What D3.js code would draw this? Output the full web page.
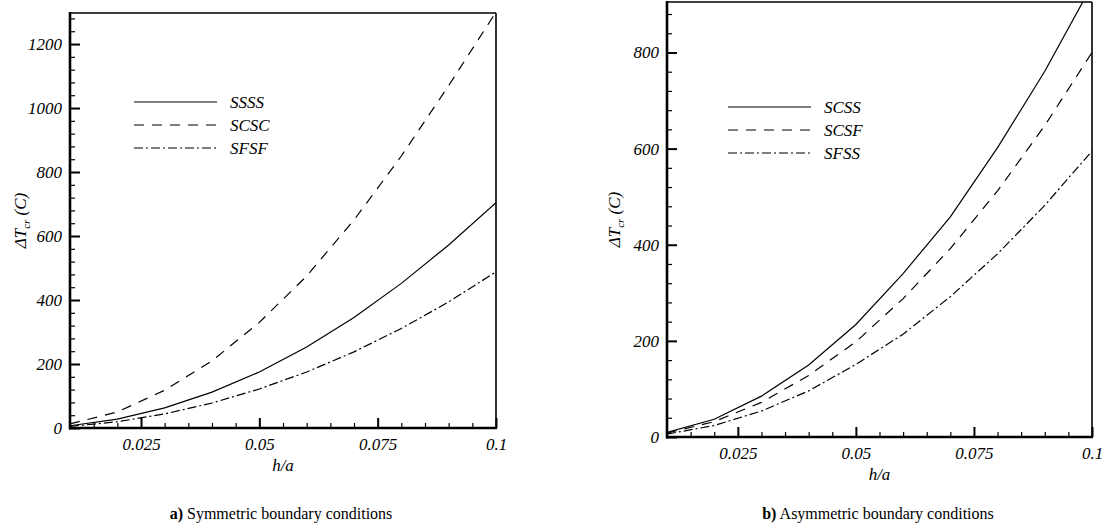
<!DOCTYPE html>
<html>
<head>
<meta charset="utf-8">
<script src="https://cdn.jsdelivr.net/npm/d3@7"></script>
<style>
  body { margin: 0; background: #fff; }
</style>
</head>
<body>
<div id="chart"></div>
<script>
// h/a values shared by both panels
let hRatio = [0.01, 0.02, 0.03, 0.04, 0.05, 0.06, 0.07, 0.08, 0.09, 0.1];

// a) symmetric boundary conditions
let ssss = [7, 28, 63, 112, 175, 253, 345, 452, 572, 704];
let scsc = [13, 50, 118, 210, 330, 475, 650, 850, 1070, 1300];
let sfsf = [5, 19.5, 44, 78, 122, 175, 238, 311, 394, 488];

// b) asymmetric boundary conditions
let scss = [9.4, 37, 85, 150, 234, 340, 458, 602, 761, 940];
let scsf = [8, 32, 72, 128, 198, 288, 392, 512, 648, 800];
let sfss = [6, 24, 54, 96, 151, 214, 292, 381, 482, 595];

let xTicks = [0.025, 0.05, 0.075, 0.1];
let xTickLabels = ["0.025", "0.05", "0.075", "0.1"];

let width = 1102, height = 530;
let serif = "'Liberation Serif', 'Times New Roman', serif";

let svg = d3.select("#chart")
    .append("svg")
    .attr("width", width)
    .attr("height", height);

// line styles
let styles = {
    solid: null,
    dash: "10,8",
    dashdot: "9,3,2,3"
};

let panels = [
    {
        id: "a",
        left: 70, right: 496, top: 13, bottom: 428,
        yMax: 1297, yMajor: [0, 200, 400, 600, 800, 1000, 1200],
        series: [
            {name: "SSSS", values: ssss, dash: styles.solid},
            {name: "SCSC", values: scsc, dash: styles.dash},
            {name: "SFSF", values: sfsf, dash: styles.dashdot}
        ],
        legendX: 134, legendY: 102,
        labelX: 20,
        caption: ["a)", " Symmetric boundary conditions"],
        captionX: 281
    },
    {
        id: "b",
        left: 667, right: 1092, top: 2, bottom: 437,
        yMax: 905, yMajor: [0, 200, 400, 600, 800],
        series: [
            {name: "SCSS", values: scss, dash: styles.solid},
            {name: "SCSF", values: scsf, dash: styles.dash},
            {name: "SFSS", values: sfss, dash: styles.dashdot}
        ],
        legendX: 728, legendY: 107,
        labelX: 614,
        caption: ["b)", " Asymmetric boundary conditions"],
        captionX: 878
    }
];

function italic(sel, size) {
    return sel.style("font-family", serif)
        .style("font-style", "italic")
        .style("font-size", size + "px")
        .attr("fill", "#000");
}

panels.forEach(function(p) {
    let x = d3.scaleLinear().domain([0.01, 0.1]).range([p.left, p.right]);
    let y = d3.scaleLinear().domain([0, p.yMax]).range([p.bottom, p.top]);

    let g = svg.append("g");

    // clip so curves stop at the frame
    svg.append("clipPath")
        .attr("id", "clip-" + p.id)
        .append("rect")
        .attr("x", p.left).attr("y", p.top)
        .attr("width", p.right - p.left).attr("height", p.bottom - p.top);

    // minor ticks
    let xMinor = d3.range(0.015, 0.1, 0.005).filter(function(v) {
        return Math.abs(v / 0.025 - Math.round(v / 0.025)) > 0.01;
    });
    let yMinor = d3.range(40, p.yMax, 40).filter(function(v) { return v % 200 !== 0; });

    g.append("g")
        .attr("transform", "translate(0," + p.bottom + ")")
        .call(d3.axisBottom(x).tickValues(xMinor).tickSize(-5).tickFormat(""))
        .call(function(s) { s.select(".domain").remove(); })
        .selectAll("line").attr("stroke-width", 1.2);

    g.append("g")
        .attr("transform", "translate(" + p.left + ",0)")
        .call(d3.axisLeft(y).tickValues(yMinor).tickSize(-5).tickFormat(""))
        .call(function(s) { s.select(".domain").remove(); })
        .selectAll("line").attr("stroke-width", 1.2);

    // major ticks with labels
    let xa = g.append("g")
        .attr("transform", "translate(0," + p.bottom + ")")
        .call(d3.axisBottom(x).tickValues(xTicks).tickSize(-10).tickPadding(10)
            .tickFormat(function(d, i) { return xTickLabels[i]; }));
    xa.select(".domain").remove();
    xa.attr("font-family", null).attr("font-size", null);
    xa.selectAll("line").attr("stroke-width", 2);
    italic(xa.selectAll("text"), 17);

    let ya = g.append("g")
        .attr("transform", "translate(" + p.left + ",0)")
        .call(d3.axisLeft(y).tickValues(p.yMajor).tickSize(-10).tickPadding(8)
            .tickFormat(d3.format("d")));
    ya.select(".domain").remove();
    ya.attr("font-family", null).attr("font-size", null);
    ya.selectAll("line").attr("stroke-width", 2);
    italic(ya.selectAll("text"), 17);

    // frame
    g.append("line").attr("x1", p.left).attr("x2", p.right).attr("y1", p.top).attr("y2", p.top)
        .attr("stroke", "#000").attr("stroke-width", 1.6);
    g.append("line").attr("x1", p.right).attr("x2", p.right).attr("y1", p.top).attr("y2", p.bottom)
        .attr("stroke", "#000").attr("stroke-width", 1.6);
    g.append("line").attr("x1", p.left).attr("x2", p.left).attr("y1", p.top - 1).attr("y2", p.bottom + 1.5)
        .attr("stroke", "#000").attr("stroke-width", 2.6);
    g.append("line").attr("x1", p.left - 1).attr("x2", p.right + 1).attr("y1", p.bottom).attr("y2", p.bottom)
        .attr("stroke", "#000").attr("stroke-width", 2.6);

    // curves
    let line = d3.line()
        .x(function(d, i) { return x(hRatio[i]); })
        .y(function(d) { return y(d); });

    g.append("g")
        .attr("clip-path", "url(#clip-" + p.id + ")")
        .selectAll("path")
        .data(p.series)
        .enter()
        .append("path")
        .attr("d", function(d) { return line(d.values); })
        .attr("fill", "none")
        .attr("stroke", "#000")
        .attr("stroke-width", 1.2)
        .attr("stroke-dasharray", function(d) { return d.dash; });

    // legend
    let lg = g.append("g").attr("transform", "translate(" + p.legendX + "," + p.legendY + ")");
    p.series.forEach(function(s, i) {
        lg.append("line")
            .attr("x1", 0).attr("x2", 83)
            .attr("y1", i * 23).attr("y2", i * 23)
            .attr("stroke", "#000").attr("stroke-width", 1.2)
            .attr("stroke-dasharray", s.dash);
        italic(lg.append("text"), 17)
            .attr("x", 96).attr("y", i * 23 + 6)
            .text(s.name);
    });

    // axis titles
    italic(g.append("text"), 17)
        .attr("x", (p.left + p.right) / 2)
        .attr("y", p.bottom + 43)
        .attr("text-anchor", "middle")
        .text("h/a");

    let yl = italic(g.append("text"), 17)
        .attr("transform", "translate(" + (p.labelX + 6) + "," + ((p.top + p.bottom) / 2) + ") rotate(-90)")
        .attr("text-anchor", "middle");
    yl.append("tspan").text("\u0394T");
    yl.append("tspan").attr("dy", 4).style("font-size", "11px").text("cr");
    yl.append("tspan").attr("dy", -4).text(" (C)");

    // caption
    let cap = svg.append("text")
        .attr("x", p.captionX)
        .attr("y", 519)
        .attr("text-anchor", "middle")
        .style("font-family", serif)
        .style("font-size", "16px");
    cap.append("tspan").style("font-weight", "bold").text(p.caption[0]);
    cap.append("tspan").text(p.caption[1]);
});
</script>
</body>
</html>
